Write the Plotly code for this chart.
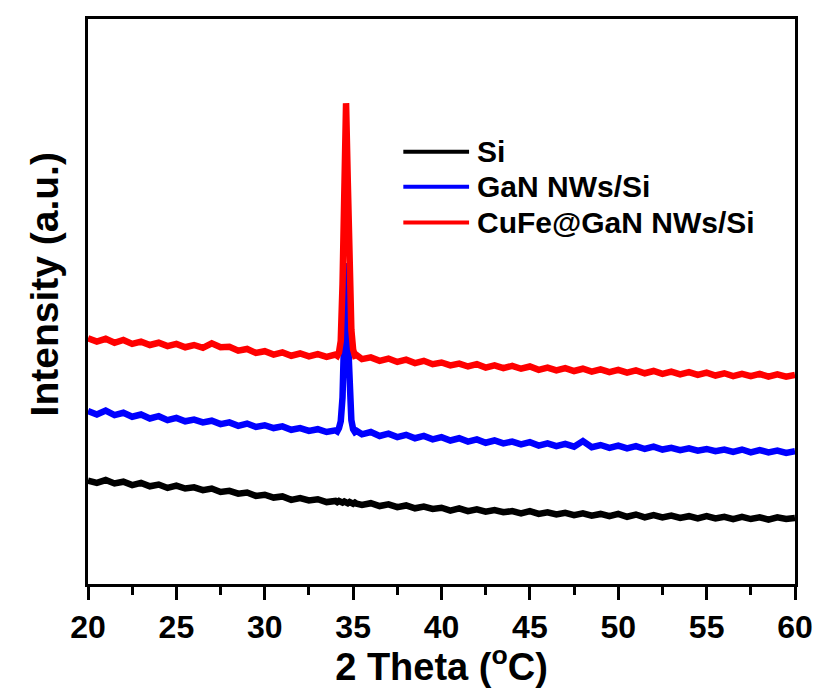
import plotly.graph_objects as go

X = [20.0, 20.5, 21.0, 21.5, 22.0, 22.5, 23.0, 23.5, 24.0, 24.5,
     25.0, 25.5, 26.0, 26.5, 27.0, 27.5, 28.0, 28.5, 29.0, 29.5,
     30.0, 30.5, 31.0, 31.5, 32.0, 32.5, 33.0, 33.5,
     34.0, 34.1, 34.2, 34.3, 34.4, 34.5, 34.6, 34.7, 34.8, 34.9, 35.0, 35.1, 35.2,
     35.5, 36.0, 36.5, 37.0, 37.5, 38.0, 38.5, 39.0, 39.5, 40.0,
     40.5, 41.0, 41.5, 42.0, 42.5, 43.0, 43.5, 44.0, 44.5, 45.0,
     45.5, 46.0, 46.5, 47.0, 47.5, 48.0, 48.5, 49.0, 49.5, 50.0,
     50.5, 51.0, 51.5, 52.0, 52.5, 53.0, 53.5, 54.0, 54.5, 55.0,
     55.5, 56.0, 56.5, 57.0, 57.5, 58.0, 58.5, 59.0, 59.5, 60.0]

SI = [18.3, 17.9, 18.4, 17.8, 18.1, 17.5, 17.9, 17.3, 17.6, 17.0,
      17.4, 16.9, 17.1, 16.6, 16.9, 16.3, 16.5, 16.0, 16.2, 15.6,
      15.8, 15.3, 15.5, 14.9, 15.2, 14.8, 15.0, 14.5,
      14.7, 14.5, 14.7, 14.5, 14.4, 14.6, 14.4, 14.3, 14.5, 14.3, 14.2, 14.4, 14.2,
      14.0, 14.3, 13.8, 14.1, 13.6, 13.9, 13.4, 13.7, 13.3, 13.5,
      13.0, 13.4, 12.9, 13.2, 12.8, 13.1, 12.7, 12.9, 12.5, 12.9,
      12.4, 12.7, 12.3, 12.6, 12.2, 12.5, 12.1, 12.4, 12.0, 12.4,
      11.9, 12.3, 11.8, 12.2, 11.8, 12.1, 11.7, 12.0, 11.6, 12.0,
      11.6, 11.9, 11.5, 11.9, 11.5, 11.8, 11.4, 11.8, 11.5, 11.7]

GAN = [30.6, 30.0, 30.7, 29.9, 30.3, 29.6, 30.0, 29.3, 29.7, 29.0,
       29.4, 28.8, 29.1, 28.6, 28.9, 28.3, 28.6, 28.0, 28.4, 27.8,
       28.1, 27.6, 27.9, 27.3, 27.6, 27.1, 27.4, 26.9,
       27.2, 27.0, 27.6, 28.8, 33.0, 46.0, 56.8, 44.0, 33.0, 29.0, 27.4, 26.9, 27.1,
       26.5, 26.9, 26.2, 26.6, 26.0, 26.4, 25.8, 26.2, 25.6, 26.0,
       25.4, 25.8, 25.2, 25.6, 25.0, 25.4, 24.9, 25.2, 24.7, 25.1,
       24.5, 24.9, 24.4, 24.8, 24.3, 25.3, 24.2, 24.6, 24.1, 24.5,
       24.0, 24.4, 23.9, 24.3, 23.8, 24.1, 23.7, 24.0, 23.6, 23.9,
       23.5, 23.8, 23.4, 23.8, 23.3, 23.7, 23.3, 23.6, 23.2, 23.5]

CUFE = [43.5, 42.9, 43.4, 42.7, 43.2, 42.5, 42.9, 42.3, 42.7, 42.1,
        42.5, 41.9, 42.3, 41.8, 42.6, 41.9, 42.0, 41.3, 41.6, 40.9,
        41.2, 40.6, 41.0, 40.4, 40.8, 40.3, 40.7, 40.2,
        40.6, 40.4, 41.0, 43.0, 53.0, 74.0, 85.1, 71.0, 53.0, 45.0, 41.5, 40.4, 40.5,
        39.8, 40.1, 39.5, 39.9, 39.3, 39.7, 39.1, 39.5, 38.9, 39.2,
        38.7, 39.0, 38.5, 38.9, 38.3, 38.7, 38.2, 38.6, 38.1, 38.5,
        37.9, 38.3, 37.8, 38.2, 37.7, 38.1, 37.6, 38.0, 37.5, 37.9,
        37.4, 37.8, 37.3, 37.7, 37.2, 37.6, 37.1, 37.5, 37.0, 37.4,
        36.9, 37.3, 36.8, 37.2, 36.8, 37.2, 36.7, 37.1, 36.7, 37.0]

SERIES_NAMES = ["Si", "GaN NWs/Si", "CuFe@GaN NWs/Si"]
SERIES_COLORS = ["#000000", "#0000ff", "#ff0000"]
SERIES_DATA = [SI, GAN, CUFE]
TICKS = [20, 25, 30, 35, 40, 45, 50, 55, 60]

FONT = "Liberation Sans, Arial, sans-serif"

fig = go.Figure()
for name, color, ys in zip(SERIES_NAMES, SERIES_COLORS, SERIES_DATA):
    fig.add_trace(go.Scatter(x=X, y=ys, mode="lines", name=name,
                             line=dict(color=color, width=6.5), showlegend=False))

# manual legend
leg_y = [0.765, 0.703, 0.640]
for name, color, yy in zip(SERIES_NAMES, SERIES_COLORS, leg_y):
    fig.add_shape(type="line", xref="paper", yref="paper", x0=0.446, x1=0.539,
                  y0=yy, y1=yy, line=dict(color=color, width=4))
    fig.add_annotation(xref="paper", yref="paper", x=0.547, y=yy, text=name,
                       showarrow=False, xanchor="left", yanchor="middle",
                       font=dict(family=FONT, size=30, color="black", weight="bold"))

# y-axis title
fig.add_annotation(xref="paper", yref="paper", x=-0.061, y=0.53, text="Intensity (a.u.)",
                   textangle=-90, showarrow=False, xanchor="center", yanchor="middle",
                   font=dict(family=FONT, size=39, color="black", weight="bold"))

fig.update_layout(
    width=825, height=688,
    margin=dict(l=88, r=25, t=19, b=104),
    paper_bgcolor="white", plot_bgcolor="white",
    font=dict(family=FONT, color="black"),
    xaxis=dict(range=[20, 60], tickvals=TICKS, ticks="outside", ticklen=13, tickwidth=3,
               tickcolor="black", showline=True, linewidth=3, linecolor="black", mirror=True,
               showgrid=False, zeroline=False,
               tickfont=dict(family=FONT, size=32, color="black", weight="bold"),
               minor=dict(dtick=2.5, tick0=20, ticks="outside", ticklen=8, tickwidth=3,
                          tickcolor="black", showgrid=False),
               title=dict(text="2 Theta (<sup>o</sup>C)", standoff=2,
                          font=dict(family=FONT, size=38, color="black", weight="bold"))),
    yaxis=dict(range=[0, 100], showticklabels=False, ticks="", showline=True, linewidth=3,
               linecolor="black", mirror=True, showgrid=False, zeroline=False),
)

fig.write_html("out.html")
